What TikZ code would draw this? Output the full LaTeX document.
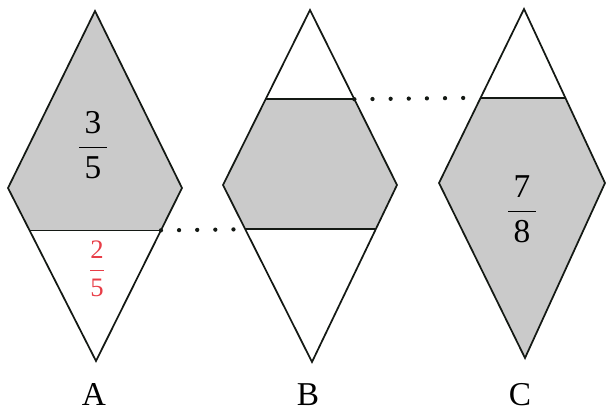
\documentclass[tikz,border=0pt]{standalone}
\usepackage{fontspec}
\setmainfont{Liberation Serif}
\usepackage{amsmath}
\usetikzlibrary{calc}
\definecolor{shadegray}{RGB}{202,202,202}
\definecolor{pen}{RGB}{20,25,20}
\definecolor{redink}{RGB}{232,62,72}

\begin{document}
\begin{tikzpicture}[
  x=0.75pt, y=-0.75pt,
  every node/.style={font=\fontsize{25}{30}\selectfont},
  outline/.style={draw=pen, line width=1.3pt, line join=miter},
  shaded/.style={fill=shadegray},
  cutline/.style={draw=pen, line width=1.3pt},
  dotline/.style={draw=pen, line width=3.2pt, line cap=round,
                  dash pattern=on 0pt off 13.6pt},
  letterlabel/.style={anchor=base, inner sep=0pt}
]
\useasboundingbox (0,0) rectangle (607,413);

% diamond A
\coordinate (At) at (95,11);
\coordinate (Al) at (8,188);
\coordinate (Ar) at (182,188);
\coordinate (Ab) at (96,361);
\coordinate (Acl) at ($(Al)!0.245!(Ab)$);
\coordinate (Acr) at ($(Ar)!0.245!(Ab)$);

% diamond B
\coordinate (Bt) at (310,10);
\coordinate (Bl) at (223,185);
\coordinate (Br) at (397,185);
\coordinate (Bb) at (312,362);
\coordinate (Bul) at ($(Bt)!0.51!(Bl)$);
\coordinate (Bur) at ($(Bt)!0.51!(Br)$);
\coordinate (Bdl) at ($(Bl)!0.25!(Bb)$);
\coordinate (Bdr) at ($(Br)!0.25!(Bb)$);

% diamond C
\coordinate (Ct) at (524,9);
\coordinate (Cl) at (439,183);
\coordinate (Cr) at (605,183);
\coordinate (Cb) at (525,358);
\coordinate (Ccl) at ($(Ct)!0.51!(Cl)$);
\coordinate (Ccr) at ($(Ct)!0.51!(Cr)$);

% shaded parts
\fill[shaded] (At) -- (Ar) -- (Acr) -- (Acl) -- (Al) -- cycle;
\fill[shaded] (Bul) -- (Bur) -- (Br) -- (Bdr) -- (Bdl) -- (Bl) -- cycle;
\fill[shaded] (Ccl) -- (Ccr) -- (Cr) -- (Cb) -- (Cl) -- cycle;

% outlines and cuts
\draw[outline] (At) -- (Ar) -- (Ab) -- (Al) -- cycle;
\draw[outline] (Bt) -- (Br) -- (Bb) -- (Bl) -- cycle;
\draw[outline] (Ct) -- (Cr) -- (Cb) -- (Cl) -- cycle;
\draw[cutline] (Acl) -- (Acr);
\draw[cutline] (Bul) -- (Bur);
\draw[cutline] (Bdl) -- (Bdr);
\draw[cutline] (Ccl) -- (Ccr);

\draw[dotline] (Acr) -- (Bdl);
\draw[dotline] (Bur) -- (Ccl);

% fractions
\node (fracA) at (93,145) {$\dfrac{\,\text{3}\,}{\,\text{5}\,}$};
\node[text=redink, font=\fontsize{20}{24}\selectfont] (fracRed) at (97,269)
  {$\dfrac{\text{2}}{\text{5}}$};
\node (fracC) at (522,209) {$\dfrac{\,\text{7}\,}{\,\text{8}\,}$};

% names
\node[letterlabel] (labA) at (94,405) {A};
\node[letterlabel] (labB) at (308,405) {B};
\node[letterlabel] (labC) at (520,405) {C};

\end{tikzpicture}
\end{document}
